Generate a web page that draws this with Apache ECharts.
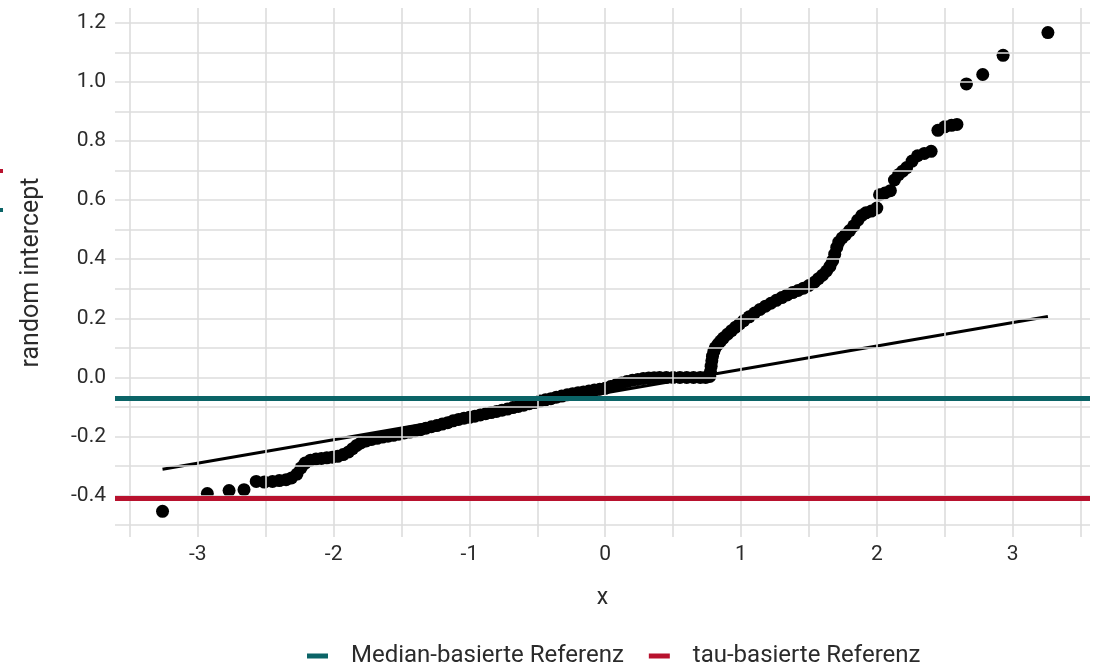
<!DOCTYPE html>
<html>
<head>
<meta charset="utf-8">
<script src="https://cdn.jsdelivr.net/npm/echarts@6/dist/echarts.min.js"></script>
<style>
  html, body { margin: 0; padding: 0; background: #ffffff; }
  #chart { width: 1107px; height: 663px; }
</style>
</head>
<body>
<div id="chart"></div>
<script>
// Theoretical normal quantiles and the matching sorted random intercepts
const qqTheoretical = [
  -3.26, -2.93, -2.77, -2.66, -2.57, -2.51, -2.45, -2.40, -2.35, -2.31,
  -2.27, -2.24, -2.21, -2.17, -2.13, -2.09, -2.05, -2.01, -1.97, -1.93,
  -1.89, -1.86, -1.83, -1.80, -1.76, -1.72, -1.68, -1.64, -1.60, -1.56,
  -1.52, -1.48, -1.44, -1.40, -1.36, -1.32, -1.28, -1.24, -1.20, -1.16,
  -1.12, -1.08, -1.04, -1.00, -0.96, -0.92, -0.88, -0.84, -0.80, -0.76,
  -0.72, -0.68, -0.64, -0.60, -0.56, -0.52, -0.48, -0.44, -0.40, -0.36,
  -0.32, -0.28, -0.24, -0.20, -0.16, -0.12, -0.08, -0.04, 0.00, 0.04,
  0.08, 0.12, 0.16, 0.20, 0.24, 0.28, 0.32, 0.36, 0.40, 0.45,
  0.50, 0.55, 0.60, 0.65, 0.70, 0.74, 0.77, 0.775, 0.78, 0.785,
  0.79, 0.80, 0.81, 0.83, 0.85, 0.87, 0.90, 0.93, 0.96, 0.99,
  1.02, 1.06, 1.10, 1.14, 1.18, 1.22, 1.26, 1.30, 1.34, 1.38,
  1.42, 1.46, 1.50, 1.54, 1.57, 1.60, 1.63, 1.655, 1.675, 1.69,
  1.705, 1.72, 1.745, 1.77, 1.80, 1.83, 1.86, 1.89, 1.92, 1.96,
  2.00, 2.02, 2.06, 2.10, 2.13, 2.16, 2.19, 2.22, 2.26, 2.30,
  2.35, 2.40, 2.45, 2.50, 2.55, 2.59, 2.66, 2.78, 2.93, 3.26
];
const qqSample = [
  -0.453, -0.393, -0.383, -0.380, -0.352, -0.354, -0.352, -0.349, -0.346, -0.340,
  -0.327, -0.306, -0.290, -0.280, -0.276, -0.274, -0.272, -0.270, -0.267, -0.261,
  -0.252, -0.241, -0.230, -0.222, -0.215, -0.210, -0.206, -0.202, -0.199, -0.196,
  -0.192, -0.188, -0.185, -0.181, -0.177, -0.172, -0.167, -0.163, -0.158, -0.153,
  -0.147, -0.142, -0.138, -0.135, -0.131, -0.127, -0.123, -0.119, -0.115, -0.111,
  -0.107, -0.102, -0.098, -0.094, -0.089, -0.085, -0.080, -0.076, -0.072, -0.067,
  -0.063, -0.059, -0.055, -0.052, -0.049, -0.046, -0.043, -0.040, -0.037, -0.031,
  -0.025, -0.019, -0.014, -0.010, -0.007, -0.004, -0.002, -0.001, 0.000, 0.000,
  0.000, 0.000, 0.000, 0.000, 0.000, 0.000, 0.003, 0.020, 0.038, 0.056,
  0.072, 0.088, 0.100, 0.112, 0.123, 0.133, 0.146, 0.158, 0.170, 0.181,
  0.192, 0.205, 0.218, 0.230, 0.241, 0.251, 0.261, 0.270, 0.279, 0.287,
  0.294, 0.302, 0.311, 0.322, 0.334, 0.346, 0.360, 0.376, 0.395, 0.417,
  0.440, 0.458, 0.472, 0.483, 0.497, 0.513, 0.532, 0.548, 0.557, 0.563,
  0.573, 0.618, 0.624, 0.632, 0.668, 0.686, 0.698, 0.710, 0.732, 0.750,
  0.758, 0.765, 0.836, 0.848, 0.853, 0.856, 0.993, 1.025, 1.090, 1.167
];

// Reference line through the quartiles (endpoints at the extreme quantiles)
const qqLineX = [-3.26, 3.26];
const qqLineY = [-0.311, 0.206];

// Horizontal reference levels
const medianRef = -0.071;
const tauRef = -0.412;
const refNames = ['Median-basierte Referenz', 'tau-basierte Referenz'];

// Tick positions
const xTicks = [-3, -2, -1, 0, 1, 2, 3];
const xMinor = [-3.5, -2.5, -1.5, -0.5, 0.5, 1.5, 2.5, 3.5];
const yTicks = [-0.4, -0.2, 0.0, 0.2, 0.4, 0.6, 0.8, 1.0, 1.2];
const yMinor = [-0.5, -0.3, -0.1, 0.1, 0.3, 0.5, 0.7, 0.9, 1.1];

const TEAL = '#0b6467';
const RED = '#b8122e';
const GRID = '#dcdcdc';
const TEXT = '#2b2b2b';
const FONT = 'Roboto, "DejaVu Sans", sans-serif';

const chart = echarts.init(document.getElementById('chart'), null, { renderer: 'canvas' });

const gridLines = []
  .concat(xTicks.concat(xMinor).map(v => ({ xAxis: v })))
  .concat(yTicks.concat(yMinor).map(v => ({ yAxis: v })));

const option = {
  animation: false,
  backgroundColor: '#ffffff',
  textStyle: { fontFamily: FONT },
  grid: { left: 115, right: 17, top: 8, bottom: 126 },
  xAxis: {
    type: 'value',
    min: -3.61,
    max: 3.57,
    splitLine: { show: false },
    axisLine: { show: false },
    axisTick: { show: false },
    axisLabel: {
      customValues: xTicks,
      formatter: v => String(v),
      fontSize: 21,
      color: TEXT,
      margin: 7,
      fontFamily: FONT
    },
    name: 'x',
    nameLocation: 'middle',
    nameGap: 50,
    nameTextStyle: { fontSize: 23, color: TEXT, fontFamily: FONT }
  },
  yAxis: {
    type: 'value',
    min: -0.54,
    max: 1.25,
    splitLine: { show: false },
    axisLine: { show: false },
    axisTick: { show: false },
    axisLabel: {
      customValues: yTicks,
      formatter: v => v.toFixed(1),
      fontSize: 21,
      color: TEXT,
      margin: 9,
      fontFamily: FONT
    },
    name: 'random intercept',
    nameLocation: 'middle',
    nameGap: 71,
    nameTextStyle: { fontSize: 25, color: TEXT, fontFamily: FONT }
  },
  legend: {
    data: refNames,
    top: 639,
    left: 302,
    icon: 'rect',
    itemWidth: 21,
    itemHeight: 5,
    itemGap: 25,
    selectedMode: false,
    textStyle: { fontSize: 24, color: TEXT, fontFamily: FONT, padding: [0, 0, 0, 18] }
  },
  series: [
    {
      type: 'line',
      data: [],
      silent: true,
      z: 1,
      markLine: {
        silent: true,
        symbol: ['none', 'none'],
        label: { show: false },
        lineStyle: { color: GRID, width: 1.6, type: 'solid' },
        emphasis: { disabled: true },
        data: gridLines
      }
    },
    {
      name: refNames[0],
      type: 'line',
      data: [],
      color: TEAL,
      itemStyle: { color: TEAL },
      lineStyle: { color: TEAL },
      z: 2,
      markLine: {
        silent: true,
        symbol: ['none', 'none'],
        label: { show: false },
        lineStyle: { color: TEAL, width: 5, type: 'solid' },
        emphasis: { disabled: true },
        data: [{ yAxis: medianRef }]
      }
    },
    {
      name: refNames[1],
      type: 'line',
      data: [],
      color: RED,
      itemStyle: { color: RED },
      lineStyle: { color: RED },
      z: 2,
      markLine: {
        silent: true,
        symbol: ['none', 'none'],
        label: { show: false },
        lineStyle: { color: RED, width: 5, type: 'solid' },
        emphasis: { disabled: true },
        data: [{ yAxis: tauRef }]
      }
    },
    {
      type: 'scatter',
      data: qqTheoretical.map((x, i) => [x, qqSample[i]]),
      symbol: 'circle',
      symbolSize: 13,
      itemStyle: { color: '#000000', opacity: 1 },
      emphasis: { disabled: true },
      z: 3
    },
    {
      type: 'line',
      data: qqLineX.map((x, i) => [x, qqLineY[i]]),
      showSymbol: false,
      symbol: 'none',
      lineStyle: { color: '#000000', width: 3 },
      z: 4
    }
  ],
  graphic: [
    { type: 'rect', left: 0, top: 169, shape: { width: 3, height: 4 }, style: { fill: RED }, silent: true },
    { type: 'rect', left: 0, top: 208, shape: { width: 3, height: 4 }, style: { fill: TEAL }, silent: true }
  ]
};

chart.setOption(option);
</script>
</body>
</html>
